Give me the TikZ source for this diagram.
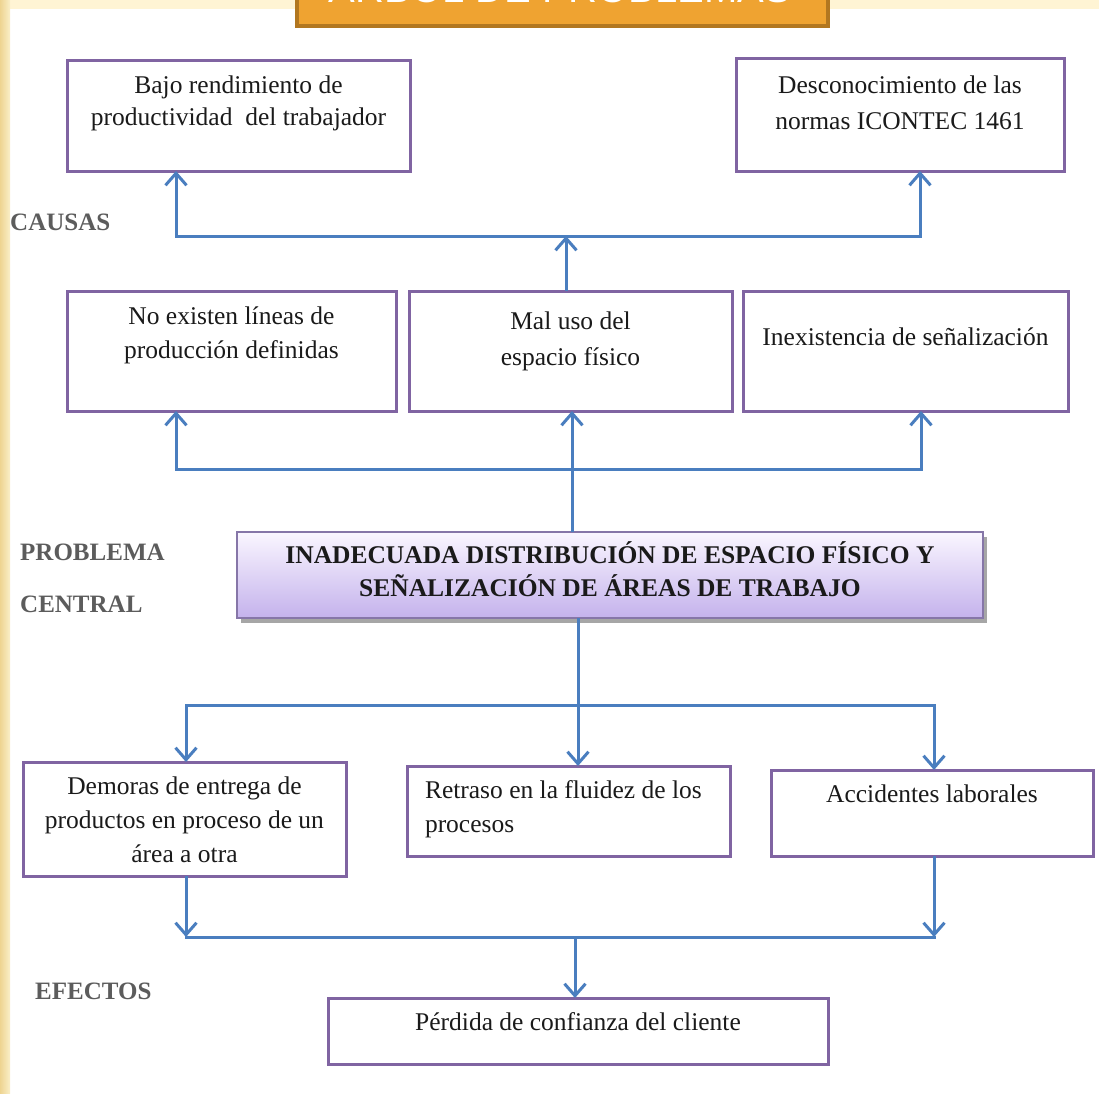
\documentclass[tikz,border=0pt]{standalone}
\usepackage{fontspec}
\setmainfont{Liberation Serif}
\newfontfamily\titlefont{Liberation Sans}
\usetikzlibrary{arrows.meta,shadows}
\definecolor{arrowblue}{HTML}{4A7EBF}
\definecolor{boxpurple}{HTML}{8064A2}
\definecolor{labelgray}{HTML}{5C5C5C}
\definecolor{titleorange}{HTML}{EFA331}
\definecolor{titlebrown}{HTML}{B27720}
\definecolor{textdark}{HTML}{1A1A1A}
\definecolor{creamtop}{HTML}{FFF4D4}
\definecolor{stripdark}{HTML}{EED491}
\definecolor{striplight}{HTML}{FAEFC8}
\definecolor{centraltop}{HTML}{FAF6FF}
\definecolor{centralbottom}{HTML}{C4B2EC}
\definecolor{centralborder}{HTML}{8676A8}
\newcommand\boxtext[5]{\parbox[c][#2][t]{#1}{\fontsize{25.5}{#4}\selectfont\centering\vspace*{#3}\rule{0pt}{18pt}#5}}
\tikzset{
  causebox/.style={draw=boxpurple, line width=3pt, inner sep=0pt, outer sep=0pt, text=textdark, fill=white},
  centralbox/.style={draw=centralborder, line width=2pt, inner sep=0pt, outer sep=0pt, text=textdark,
    top color=centraltop, bottom color=centralbottom,
    drop shadow={shadow xshift=4pt, shadow yshift=-5pt, fill=black, opacity=0.35}},
  conn/.style={draw=arrowblue, line width=3pt, line cap=rect},
  arr/.style={draw=arrowblue, line width=3pt, -{Straight Barb[length=12pt,width=21pt,line width=3pt]}},
  sidelabel/.style={text=labelgray, font=\fontsize{25}{25}\selectfont\bfseries, anchor=base west, inner sep=0pt},
}
\begin{document}
\begin{tikzpicture}[x=1pt,y=-1pt]
\useasboundingbox (0,0) rectangle (1099,1093);
\fill[white] (0,0) rectangle (1099,1093);
\begin{scope}
\clip (0,0) rectangle (1099,1093);
\fill[creamtop] (0,0) rectangle (1099,9);
\shade[left color=stripdark, right color=striplight] (0,0) rectangle (10,1093);
\node[fill=titleorange, draw=titlebrown, line width=4pt, minimum width=531pt, minimum height=60pt, inner sep=0pt] (titlebox) at (562.5,-4) {};
\node[text=white, font=\titlefont\fontsize{40}{40}\selectfont, anchor=base, inner sep=0pt] (titletext) at (560,2.5) {ÁRBOL DE PROBLEMAS};
\end{scope}

% labels
\node[sidelabel] (lcausas) at (10,230) {CAUSAS};
\node[sidelabel] (lproblema) at (20,560) {PROBLEMA};
\node[sidelabel] (lcentral) at (20,612) {CENTRAL};
\node[sidelabel] (lefectos) at (35,999) {EFECTOS};

% cause boxes
\node[causebox] (b1) at (238.5,115.5) {\boxtext{343pt}{111pt}{15pt}{32pt}{Bajo rendimiento de\\productividad\ \ del trabajador}};
\node[causebox] (b2) at (900,114.5) {\boxtext{328pt}{113pt}{17pt}{36pt}{Desconocimiento de las\\normas ICONTEC 1461}};
\node[causebox] (b3) at (231.5,351) {\boxtext{329pt}{120pt}{15pt}{34pt}{No existen líneas de\\producción definidas}};
\node[causebox] (b4) at (570.5,351) {\boxtext{323pt}{120pt}{20pt}{36pt}{Mal uso del\\espacio físico}};
\node[causebox] (b5) at (905.5,351) {\boxtext{325pt}{120pt}{36pt}{34pt}{Inexistencia de señalización}};

% central problem
\node[centralbox] (c) at (610,575) {\parbox[c][86pt][t]{746pt}{\fontsize{25.5}{33}\selectfont\bfseries\centering\vspace*{7pt}\rule{0pt}{24pt}INADECUADA DISTRIBUCIÓN DE ESPACIO FÍSICO Y\\SEÑALIZACIÓN DE ÁREAS DE TRABAJO}};

% effect boxes
\node[causebox] (e1) at (184.5,819) {\boxtext{323pt}{114pt}{14pt}{34pt}{Demoras de entrega de\\productos en proceso de un\\área a otra}};
\node[causebox] (e2) at (568.5,811) {\parbox[c][90pt][t]{323pt}{\fontsize{25.5}{34}\selectfont\raggedright\leftskip=18pt\vspace*{14pt}\rule{0pt}{18pt}Retraso en la fluidez de los\\procesos}};
\node[causebox] (e3) at (932,813) {\boxtext{322pt}{86pt}{14pt}{34pt}{Accidentes laborales}};
\node[causebox] (f) at (578,1031) {\boxtext{500pt}{66pt}{14pt}{34pt}{Pérdida de confianza del cliente}};

% connectors: causes level 1
\coordinate (j1) at (566,236);
\coordinate (j1l) at (176,236);
\coordinate (j1r) at (920,236);
\draw[conn] (j1l) -- (j1r);
\draw[arr] (j1l) -- (j1l |- b1.south);
\draw[arr] (j1r) -- (j1r |- b2.south);
\draw[arr] (b4.north -| j1) -- (j1);

% connectors: causes level 2
\coordinate (j2l) at (176,469);
\coordinate (j2r) at (921,469);
\coordinate (j2c) at (572,469);
\draw[conn] (j2l) -- (j2r);
\draw[arr] (j2l) -- (j2l |- b3.south);
\draw[arr] (j2r) -- (j2r |- b5.south);
\draw[arr] (c.north -| j2c) -- (j2c |- b4.south);

% connectors: effects
\coordinate (j3l) at (186,705);
\coordinate (j3r) at (934,705);
\coordinate (j3c) at (578,705);
\draw[conn] (j3l) -- (j3r);
\draw[arr] (c.south -| j3c) -- (j3c |- e2.north);
\draw[arr] (j3l) -- (j3l |- e1.north);
\draw[arr] (j3r) -- (j3r |- e3.north);

\coordinate (j4l) at (186,937);
\coordinate (j4r) at (934,937);
\coordinate (j4c) at (575,937);
\draw[conn] (j4l) -- (j4r);
\draw[arr] (e1.south -| j4l) -- (j4l);
\draw[arr] (e3.south -| j4r) -- (j4r);
\draw[arr] (j4c) -- (j4c |- f.north);
\end{tikzpicture}
\end{document}
